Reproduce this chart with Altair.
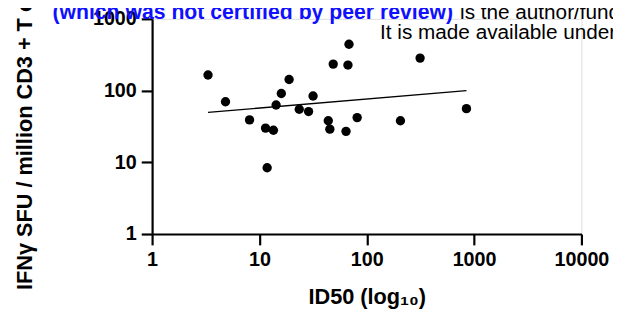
import altair as alt
import pandas as pd

# ---- data ----
id50 = [3.32, 4.83, 8.09, 11.4, 13.5, 11.8, 14.3, 16.0, 18.9, 23.5, 28.7,
        31.6, 43.8, 45.3, 48.7, 64.1, 66.8, 68.3, 81.4, 314, 206, 849]
sfu = [165, 70, 39, 30, 28, 8.4, 63, 91, 143, 55, 51,
       84, 38, 29, 234, 27, 227, 442, 42, 284, 38, 56]
fit_id50 = [3.32, 849]
fit_sfu = [49.7, 99.7]
x_ticks = [1, 10, 100, 1000, 10000]
y_ticks = [1, 10, 100, 1000]
banner_blue = ["(which was not certified by peer review)"]
banner_black = ["is the author/funder, who has granted bioRxiv a license to display the preprint in perpetuity."]
banner_line2 = ["It is made available under a CC-BY-NC-ND 4.0 International license."]

FONT = "Liberation Sans"

pts = pd.DataFrame({"id50": id50, "sfu": sfu})
fit = pd.DataFrame({"id50": fit_id50, "sfu": fit_sfu})

xscale = alt.Scale(type="log", domain=[1, 10000])
yscale = alt.Scale(type="log", domain=[1, 1000])

common_axis = dict(grid=False, tickSize=11, tickWidth=2.2, domainWidth=2.2,
                   domainColor="black", tickColor="black",
                   labelFont=FONT, labelFontSize=20, labelFontWeight="bold",
                   labelColor="black", labelPadding=5,
                   titleFont=FONT, titleFontSize=22, titleFontWeight="bold",
                   titleColor="black", labelFlush=False, labelOverlap=False)

xaxis = alt.Axis(values=x_ticks, format="d", title="ID50 (log₁₀)",
                 titleBaseline="alphabetic", titleY=70, **common_axis)
yaxis = alt.Axis(values=y_ticks, format="d",
                 title="IFNγ SFU / million CD3 + T cells",
                 titleBaseline="alphabetic", titleAngle=270, titleAlign="center",
                 titleX=-122, titleY=109, **common_axis)

points = alt.Chart(pts).mark_circle(size=90, color="black", opacity=1).encode(
    x=alt.X("id50:Q", scale=xscale, axis=xaxis),
    y=alt.Y("sfu:Q", scale=yscale, axis=yaxis),
)

line = alt.Chart(fit).mark_line(color="black", strokeWidth=1.3).encode(
    x=alt.X("id50:Q", scale=xscale),
    y=alt.Y("sfu:Q", scale=yscale),
)

t1 = alt.Chart(pd.DataFrame({"t": banner_blue})).mark_text(
    align="left", baseline="alphabetic", font=FONT, fontSize=21.5,
    fontWeight="bold", color="#1010ff").encode(
    x=alt.value(-101), y=alt.value(0), text="t:N")
t2 = alt.Chart(pd.DataFrame({"t": banner_black})).mark_text(
    align="left", baseline="alphabetic", font=FONT, fontSize=21,
    color="black").encode(
    x=alt.value(312), y=alt.value(0), text="t:N")
t3 = alt.Chart(pd.DataFrame({"t": banner_line2})).mark_text(
    align="left", baseline="alphabetic", font=FONT, fontSize=21,
    color="black").encode(
    x=alt.value(231), y=alt.value(20), text="t:N")

chart = alt.layer(line, points, t1, t2, t3).properties(
    width=435, height=218,
    padding={"left": 146, "top": 9, "right": 32, "bottom": 78},
    autosize=alt.AutoSizeParams(type="none"),
).configure_view(stroke=None).configure(background="white")

chart.save("out.html", embed_options={"renderer": "svg", "actions": False})
